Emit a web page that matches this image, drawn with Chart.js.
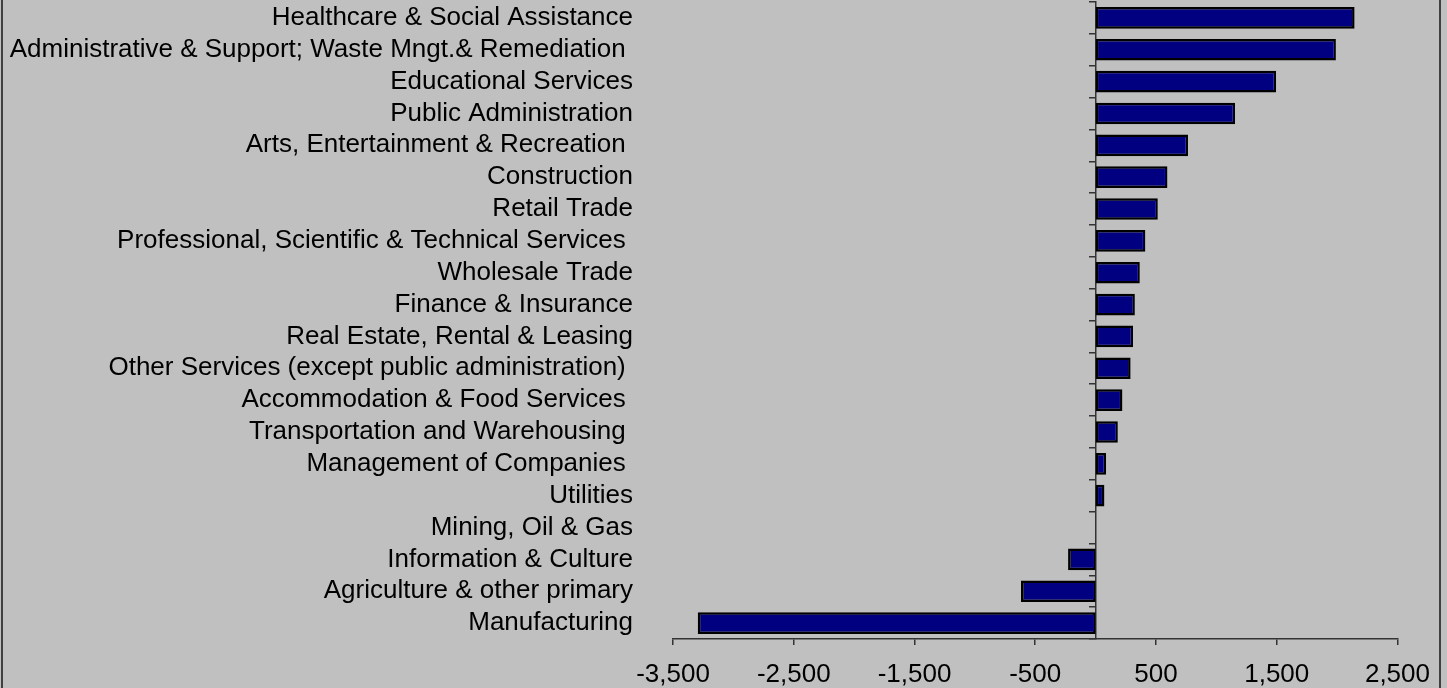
<!DOCTYPE html>
<html>
<head>
<meta charset="utf-8">
<script src="https://cdn.jsdelivr.net/npm/chart.js@4/dist/chart.umd.min.js"></script>
<style>
    html, body { margin: 0; padding: 0; background: #c0c0c0; overflow: hidden; }
    #wrap { position: relative; width: 1447px; height: 688px; }
    #frame {
        position: absolute; left: 1px; top: -10px; width: 1440px; height: 720px;
        border-left: 2px solid #404040; border-right: 2px solid #404040;
        box-sizing: border-box; pointer-events: none;
    }
</style>
</head>
<body>
<div id="wrap">
    <canvas id="chart" width="1447" height="688"></canvas>
    <div id="frame"></div>
</div>
<script>
// --- Data ---
const industries = [
    'Healthcare & Social Assistance',
    'Administrative & Support; Waste Mngt.& Remediation ',
    'Educational Services',
    'Public Administration',
    'Arts, Entertainment & Recreation ',
    'Construction',
    'Retail Trade',
    'Professional, Scientific & Technical Services ',
    'Wholesale Trade',
    'Finance & Insurance',
    'Real Estate, Rental & Leasing',
    'Other Services (except public administration) ',
    'Accommodation & Food Services ',
    'Transportation and Warehousing ',
    'Management of Companies ',
    'Utilities',
    'Mining, Oil & Gas',
    'Information & Culture',
    'Agriculture & other primary',
    'Manufacturing'
];

const jobChange = [
    2145, 1990, 1495, 1155, 765, 595, 515, 412, 366, 325,
    310, 290, 222, 184, 87, 73, 0, -228, -618, -3295
];

const xTicks = [-3500, -2500, -1500, -500, 500, 1500, 2500];

// --- Chart ---
const axisColor = '#333333';
const labelFont = { family: 'Liberation Sans, Arial, sans-serif', size: 26, lineHeight: 1 };

new Chart(document.getElementById('chart').getContext('2d'), {
    type: 'bar',
    data: {
        labels: industries,
        datasets: [{
            data: jobChange,
            backgroundColor: '#000080',
            borderColor: '#000000',
            borderWidth: 2.5,
            borderSkipped: false,
            barPercentage: 0.68,
            categoryPercentage: 1
        }]
    },
    options: {
        indexAxis: 'y',
        responsive: false,
        animation: false,
        layout: { padding: { top: 2, bottom: 0, left: 0, right: 47 } },
        plugins: { legend: { display: false }, tooltip: { enabled: false } },
        scales: {
            x: {
                min: xTicks[0],
                max: xTicks[xTicks.length - 1],
                afterBuildTicks: (scale) => { scale.ticks = xTicks.map(v => ({ value: v })); },
                ticks: {
                    color: '#000',
                    font: labelFont,
                    padding: 17,
                    maxRotation: 0,
                    callback: (v) => Number(v).toLocaleString('en-US')
                },
                grid: { drawOnChartArea: false, drawTicks: true, tickLength: 6, color: axisColor, lineWidth: 1.5 },
                border: { display: true, color: axisColor, width: 1.5 },
                // Chart.js reserves the tick padding twice; keep the axis band tight
                afterFit: (scale) => { scale.height = 49; }
            },
            y: {
                position: 'left',
                ticks: { color: '#000', font: labelFont, padding: 40, autoSkip: false },
                grid: { display: false, drawTicks: false },
                border: { display: false },
                // the label column is wider than Chart.js allows by default
                afterFit: (scale) => { scale.width = 673; scale.paddingTop = 0; scale.paddingBottom = 0; }
            },
            y0: {
                type: 'category',
                position: { x: 0 },
                ticks: { display: false },
                grid: { drawOnChartArea: false, drawTicks: true, tickLength: 6, color: axisColor, lineWidth: 1.5, offset: true },
                border: { display: true, color: axisColor, width: 1.5 },
                afterFit: (scale) => { scale.width = 0; scale.paddingTop = 0; scale.paddingBottom = 0; }
            }
        }
    }
});
</script>
</body>
</html>
